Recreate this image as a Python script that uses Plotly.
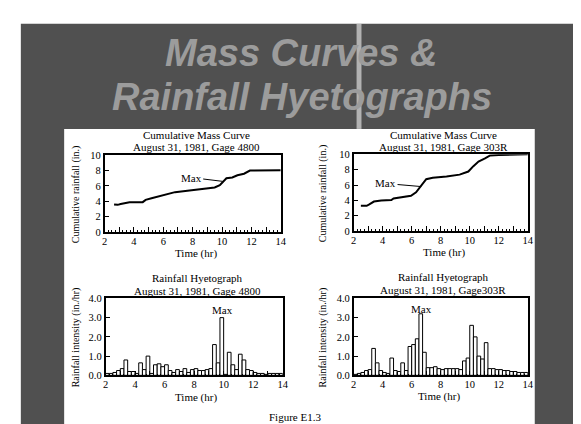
import numpy as np
import plotly.graph_objects as go

W, H = 581, 424

# ---------------- data ----------------
mass_4800_t = [2.65, 2.9, 3.1, 3.4, 3.7, 4.6, 4.8, 5.2, 5.7, 6.15, 6.8, 7.5, 8.15, 8.8, 9.5, 9.85, 10.05, 10.3, 10.7, 11.05, 11.5, 11.9, 14.0]
mass_4800_v = [3.6, 3.55, 3.65, 3.8, 3.9, 3.9, 4.2, 4.4, 4.65, 4.95, 5.2, 5.35, 5.5, 5.6, 5.8, 6.1, 6.5, 7.0, 7.1, 7.4, 7.6, 8.0, 8.05]

mass_303R_t = [2.5, 2.9, 3.05, 3.4, 3.9, 4.6, 4.75, 5.05, 5.6, 5.95, 6.3, 6.65, 7.0, 7.45, 8.4, 9.3, 9.9, 10.25, 10.6, 11.05, 11.4, 12.0, 14.0]
mass_303R_v = [3.3, 3.3, 3.45, 3.85, 4.0, 4.05, 4.25, 4.35, 4.45, 4.6, 5.05, 5.9, 6.75, 6.95, 7.1, 7.35, 7.75, 8.45, 9.05, 9.45, 9.85, 9.9, 10.0]

hyeto_start = [2.0 + 0.25 * k for k in range(48)]   # 15-min bins
hyeto_4800 = [0.1, 0.1, 0.15, 0.25, 0.35, 0.8, 0.2, 0.2, 0.1, 0.65, 0.3, 1.0,
              0.1, 0.55, 0.6, 0.45, 0.55, 0.25, 0.15, 0.3, 0.2, 0.35, 0.15, 0.3,
              0.35, 0.25, 0.25, 0.3, 0.35, 1.6, 0.65, 3.0, 0.05, 1.2, 0.55, 0.3,
              1.1, 0.8, 0.3, 0.25, 0.15, 0.1, 0.1, 0.05, 0.1, 0.1, 0.1, 0.1]
hyeto_303R = [0.05, 0.1, 0.15, 0.25, 0.3, 1.4, 0.65, 0.25, 0.15, 0.1, 0.9, 0.25,
              0.2, 0.65, 0.25, 1.5, 1.6, 1.9, 3.2, 1.2, 0.4, 0.4, 0.45, 0.35,
              0.3, 0.35, 0.35, 0.35, 0.35, 0.3, 0.75, 0.9, 2.6, 2.0, 1.0, 0.85,
              1.7, 0.35, 0.35, 0.3, 0.3, 0.25, 0.25, 0.2, 0.2, 0.15, 0.15, 0.15]

time_ticks = list(range(2, 15))
time_labels = [str(v) if v % 2 == 0 else "" for v in time_ticks]

# "Max" callouts: (text x, text y, tip x, tip y)
max_4800_mass = (7.9, 7.1, 10.05, 6.6)
max_303R_mass = (4.2, 6.2, 6.65, 5.8)
max_4800_hyeto = (9.9, 3.4)
max_303R_hyeto = (6.7, 3.45)

# ---------------- figure ----------------
SERIF = "Liberation Serif"
fig = go.Figure()

fig.add_trace(go.Scatter(x=mass_4800_t, y=mass_4800_v, mode="lines",
                         line=dict(color="black", width=2), xaxis="x", yaxis="y", showlegend=False))
fig.add_trace(go.Scatter(x=mass_303R_t, y=mass_303R_v, mode="lines",
                         line=dict(color="black", width=2), xaxis="x2", yaxis="y2", showlegend=False))
fig.add_trace(go.Bar(x=hyeto_start, y=hyeto_4800, width=0.25, offset=0,
                     marker=dict(color="white", line=dict(color="black", width=1)),
                     xaxis="x3", yaxis="y3", showlegend=False))
fig.add_trace(go.Bar(x=hyeto_start, y=hyeto_303R, width=0.25, offset=0,
                     marker=dict(color="white", line=dict(color="black", width=1)),
                     xaxis="x4", yaxis="y4", showlegend=False))


def dx(p):
    return p / W


def dy(p):
    return 1 - p / H


def xax(x0, x1, anchor):
    return dict(domain=[dx(x0), dx(x1)], anchor=anchor, range=[2, 14],
                tickmode="array", tickvals=time_ticks, ticktext=time_labels,
                ticks="inside", ticklen=5, tickwidth=1, tickcolor="black",
                minor=dict(dtick=0.25, tick0=2, ticks="inside", ticklen=2, tickcolor="black"),
                showline=True, mirror=True, linecolor="black", linewidth=1.5,
                showgrid=False, zeroline=False, ticklabelstandoff=-2,
                tickfont=dict(family=SERIF, size=10.5, color="black"), fixedrange=True)


def yax(y0, y1, anchor, rng, dtick, fmt):
    return dict(domain=[dy(y1), dy(y0)], anchor=anchor, range=rng, dtick=dtick,
                tickformat=fmt, ticks="inside", ticklen=5, tickcolor="black",
                showline=True, mirror=True, linecolor="black", linewidth=1.5,
                showgrid=False, zeroline=False,
                tickfont=dict(family=SERIF, size=10.5, color="black"), fixedrange=True)


fig.update_layout(
    width=W, height=H, margin=dict(l=0, r=0, t=0, b=0),
    paper_bgcolor="white", plot_bgcolor="white", showlegend=False,
    xaxis=xax(95, 274, "y"), yaxis=yax(146, 225, "x", [0, 10], 2, "d"),
    xaxis2=xax(348, 525, "y2"), yaxis2=yax(145, 224, "x2", [0, 10], 2, "d"),
    xaxis3=xax(96, 276, "y3"), yaxis3=yax(293, 372, "x3", [0, 4], 1, ".1f"),
    xaxis4=xax(348, 525, "y4"), yaxis4=yax(293, 372, "x4", [0, 4], 1, ".1f"),
)

# slide background
shapes = [
    dict(type="rect", xref="paper", yref="paper", x0=dx(10), x1=1, y0=0, y1=dy(11),
         fillcolor="#505050", line=dict(width=0), layer="below"),
    dict(type="rect", xref="paper", yref="paper", x0=dx(351), x1=dx(356), y0=dy(119), y1=dy(11),
         fillcolor="rgba(220,220,220,0.7)", line=dict(width=0), layer="below"),
    dict(type="rect", xref="paper", yref="paper", x0=dx(54), x1=dx(532), y0=0, y1=dy(119),
         fillcolor="white", line=dict(width=0), layer="below"),
]
fig.update_layout(shapes=shapes)

ann = []


def ptext(text, x, y, size=12, angle=0, color="black", family=SERIF):
    ann.append(dict(text=text, xref="paper", yref="paper", x=dx(x), y=dy(y),
                    xanchor="center", yanchor="middle", showarrow=False, textangle=angle,
                    font=dict(family=family, size=size, color=color)))


# slide title
ptext("<b><i>Mass Curves &amp;</i></b>", 295, 41, size=38, color="#9c9c9c", family="Liberation Sans")
ptext("<b><i>Rainfall Hyetographs</i></b>", 296, 86, size=38, color="#9c9c9c", family="Liberation Sans")

# panel titles
ptext("Cumulative Mass Curve", 188, 125, size=11)
ptext("August 31, 1981, Gage 4800", 188, 138, size=11)
ptext("Cumulative Mass Curve", 439, 125, size=11)
ptext("August 31, 1981, Gage 303R", 439, 138, size=11)
ptext("Rainfall Hyetograph", 189, 272, size=11)
ptext("August 31, 1981, Gage 4800", 189, 285, size=11)
ptext("Rainfall Hyetograph", 439, 271, size=11)
ptext("August 31, 1981, Gage303R", 439, 284, size=11)

# axis titles
ptext("Time (hr)", 188, 247, size=11)
ptext("Time (hr)", 440, 246, size=11)
ptext("Time (hr)", 188, 395, size=11)
ptext("Time (hr)", 435, 394, size=11)
ptext("Cumulative rainfall (in.)", 66, 186, size=10, angle=-90)
ptext("Cumulative rainfall (in.)", 317, 186, size=10, angle=-90)
ptext("Rainfall intensity (in./hr)", 66, 333, size=10, angle=-90)
ptext("Rainfall intensity (in./hr)", 317, 333, size=10, angle=-90)

ptext("Figure E1.3", 288, 415, size=11)

# Max callouts
for (tx, ty, px, py), xa, ya in [(max_4800_mass, "x", "y"), (max_303R_mass, "x2", "y2")]:
    ann.append(dict(text="Max", x=px, y=py, xref=xa, yref=ya, ax=tx, ay=ty, axref=xa, ayref=ya,
                    showarrow=True, arrowhead=0, arrowwidth=1, arrowcolor="black",
                    font=dict(family=SERIF, size=11, color="black")))
for (tx, ty), xa, ya in [(max_4800_hyeto, "x3", "y3"), (max_303R_hyeto, "x4", "y4")]:
    ann.append(dict(text="Max", x=tx, y=ty, xref=xa, yref=ya, showarrow=False,
                    font=dict(family=SERIF, size=11, color="black")))

fig.update_layout(annotations=ann)
fig.write_html("out.html")
